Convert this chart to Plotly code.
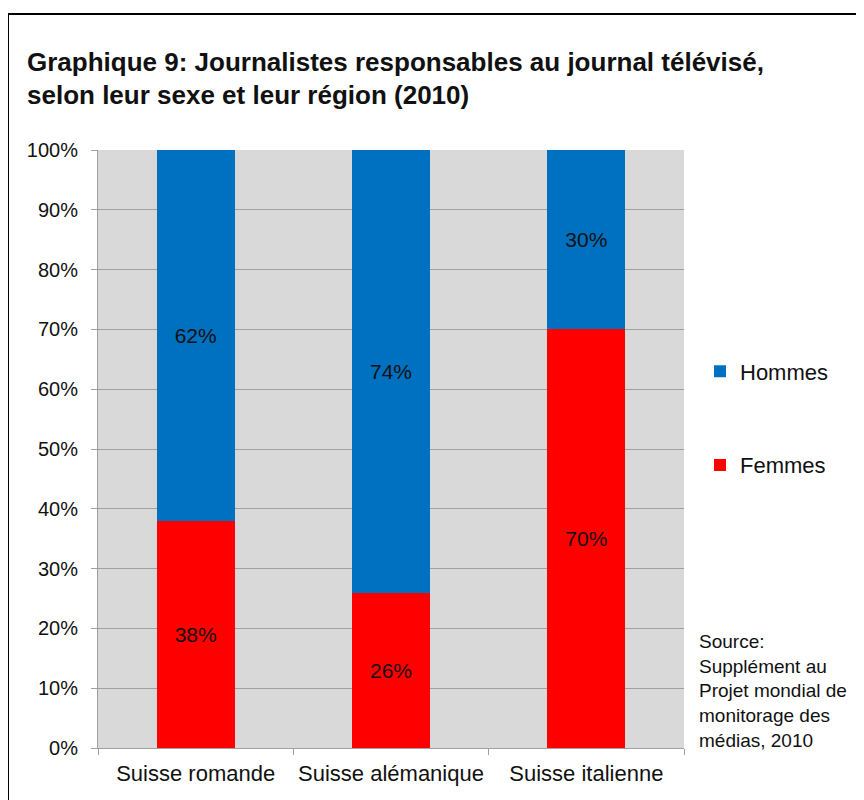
import plotly.graph_objects as go

categories = ["Suisse romande", "Suisse alémanique", "Suisse italienne"]
femmes = [38, 26, 70]
hommes = [62, 74, 30]
y_ticks = list(range(0, 101, 10))
y_tick_labels = [f"{v}%" for v in y_ticks]

FONT = "Liberation Sans, Arial, sans-serif"

fig = go.Figure()
fig.add_trace(go.Bar(
    x=categories, y=femmes, name="Femmes", legendgroup="f", legendrank=2,
    marker=dict(color="#ff0000", line=dict(width=0)),
    text=[f"{v}%" for v in femmes], textposition="inside", insidetextanchor="middle",
    textfont=dict(color="#111111", size=21, family=FONT),
    hoverinfo="skip",
))
fig.add_trace(go.Bar(
    x=categories, y=hommes, name="Hommes", legendgroup="h", legendrank=1,
    marker=dict(color="#0070c0", line=dict(width=0)),
    text=[f"{v}%" for v in hommes], textposition="inside", insidetextanchor="middle",
    textfont=dict(color="#111111", size=21, family=FONT),
    hoverinfo="skip",
))

W, H = 856, 792  # page body has an 8px margin

fig.update_layout(
    width=W, height=H,
    barmode="stack", bargap=0.6,
    paper_bgcolor="white", plot_bgcolor="#d9d9d9",
    font=dict(family=FONT, size=20, color="#111111"),
    margin=dict(l=90, r=180, t=142, b=52),
    title=dict(
        text="<b>Graphique 9: Journalistes responsables au journal télévisé,<br>selon leur sexe et leur région (2010)</b>",
        x=19/W, xanchor="left", xref="container",
        y=1-62.5/H, yanchor="middle", yref="container",
        font=dict(size=26, family=FONT, color="#111111"),
    ),
    legend=dict(
        x=(700-98)/586, xanchor="left", y=0.551, yanchor="middle",
        traceorder="grouped", tracegroupgap=62,
        font=dict(size=22, family=FONT, color="#111111"),
        itemwidth=30, bgcolor="rgba(0,0,0,0)",
    ),
    xaxis=dict(
        showline=True, linecolor="#a0a0a0", linewidth=1,
        tickson="boundaries", ticks="outside", ticklen=6, tickcolor="#a0a0a0",
        showgrid=False, tickfont=dict(size=22), ticklabelstandoff=6,
    ),
    yaxis=dict(
        range=[0, 100], tickvals=y_ticks, ticktext=y_tick_labels,
        showline=True, linecolor="#a0a0a0", linewidth=1,
        ticks="outside", ticklen=6, tickcolor="#a0a0a0",
        showgrid=True, gridcolor="#a0a0a0", gridwidth=1,
        tickfont=dict(size=20), zeroline=False, ticklabelstandoff=9,
    ),
    annotations=[dict(
        text="Source:<br>Supplément au<br>Projet mondial de<br>monitorage des<br>médias, 2010",
        xref="paper", yref="paper", x=(697-98)/586, y=(748-629)/598,
        xanchor="left", yanchor="top", align="left", showarrow=False,
        font=dict(size=19, family=FONT, color="#111111"),
    )],
    shapes=[dict(
        type="rect", xref="paper", yref="paper",
        x0=(8-98)/586, x1=1.6, y0=-0.3, y1=(748-14)/598,
        line=dict(color="#000000", width=2), fillcolor="rgba(0,0,0,0)", layer="below",
    )],
)

fig.write_html("out.html")
